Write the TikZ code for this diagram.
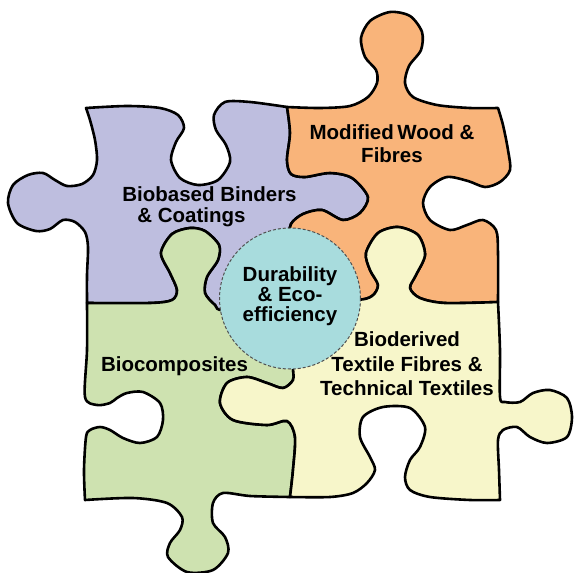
\documentclass[tikz,border=0pt]{standalone}
\usepackage{fontspec}
\setmainfont{Liberation Sans}
\definecolor{purp}{HTML}{BEBEDF}
\definecolor{oran}{HTML}{F9B47A}
\definecolor{gree}{HTML}{CEE2B0}
\definecolor{yell}{HTML}{F7F6CA}
\definecolor{circ}{HTML}{A8DCDD}
\definecolor{dashc}{HTML}{505050}
\begin{document}
\begin{tikzpicture}[x=1pt,y=-1pt,
  piece/.style={draw=black,line width=2.6pt,line join=round,line cap=round},
  lbl/.style={inner sep=0pt,align=center,text=black},
  fa/.style={font=\fontsize{20.5}{21}\selectfont\bfseries},
  fb/.style={font=\fontsize{20.5}{23}\selectfont\bfseries},
  fc/.style={font=\fontsize{20.5}{20}\selectfont\bfseries},
  fd/.style={font=\fontsize{20.5}{24.5}\selectfont\bfseries}]
\fill[white] (0,0) rectangle (574,573);
\useasboundingbox (0,0) rectangle (574,573);
% purple piece
\filldraw[piece,fill=purp]
  plot[smooth] coordinates {(87,303) (87,275) (88,247) (85,232) (75,222) (63,220) (50,229) (36,231) (17,223) (8,203) (13,185) (28,175) (43,173) (55,180) (67,186) (82,184) (93,175) (97,160) (95,140) (90,120) (86,108)}
  -- plot[smooth] coordinates {(86,108) (127,106) (160,108) (178,115) (184,128) (176,142) (171,160) (180,178) (198,185) (218,180) (230,162) (226,145) (216,130) (214,115) (225,102) (250,102) (287,107)}
  -- plot[smooth] coordinates {(287,107) (290,133) (287,160) (291,174) (305,177) (330,173) (352,178) (368,197) (360,213) (343,220) (322,210) (303,214) (291,224) (289,240) (290,300)}
  -- plot[smooth] coordinates {(290,300) (225,310) (215,305) (205,293) (207,277) (218,260) (219,245) (205,231) (190,228) (172,234) (161,253) (170,273) (177,290) (172,300) (150,303) (87,303)}
  -- cycle;
% orange piece
\filldraw[piece,fill=oran]
  plot[smooth] coordinates {(287,107) (320,108) (350,106) (368,97) (377,83) (376,70) (365,57) (361,38) (370,21) (390,12) (410,16) (422,32) (421,50) (409,66) (405,83) (413,97) (437,105) (470,108) (498,108)}
  -- plot[smooth] coordinates {(498,108) (503,125) (508,150) (510,170) (500,182) (485,187) (468,181) (447,177) (430,187) (423,203) (430,220) (450,230) (467,225) (483,220) (496,230) (498,253) (498,302)}
  -- plot[smooth] coordinates {(498,302) (445,303) (420,298) (410,288) (416,275) (425,255) (418,235) (398,227) (378,233) (366,253) (370,270) (378,285) (372,296) (355,300) (290,300)}
  -- plot[smooth] coordinates {(290,300) (289,240) (291,224) (303,214) (322,210) (343,220) (360,213) (368,197) (352,178) (330,173) (305,177) (291,174) (287,160) (290,133) (287,107)}
  -- cycle;
% green piece
\filldraw[piece,fill=gree]
  plot[smooth] coordinates {(87,303) (150,303) (172,300) (177,290) (170,273) (161,253) (172,234) (190,228) (205,231) (219,245) (218,260) (207,277) (205,293) (215,305) (225,310) (290,300)}
  -- plot[smooth] coordinates {(290,300) (293,367) (293,380) (283,388) (267,383) (247,377) (227,383) (220,403) (233,420) (267,425) (287,421) (295,437) (293,470) (290,497)}
  -- plot[smooth] coordinates {(290,497) (250,496) (223,493) (213,503) (213,523) (225,537) (228,553) (213,570) (187,572) (168,557) (170,543) (180,530) (182,517) (167,503) (133,498) (85,500)}
  -- plot[smooth] coordinates {(85,500) (84,470) (86,437) (90,430) (100,427) (110,430) (123,438) (140,443) (157,437) (163,420) (160,403) (143,392) (127,393) (117,398) (110,403) (97,405) (85,397) (87,350) (87,303)}
  -- cycle;
% yellow piece
\filldraw[piece,fill=yell]
  plot[smooth] coordinates {(290,300) (355,300) (372,296) (378,285) (370,270) (366,253) (378,233) (398,227) (418,235) (425,255) (416,275) (410,288) (420,298) (445,303) (498,302)}
  -- plot[smooth] coordinates {(498,302) (500,350) (500,397) (505,402) (520,402) (533,393) (550,390) (567,398) (572,417) (567,437) (547,443) (530,437) (517,427) (503,430) (498,440) (499,470) (500,500)}
  -- plot[smooth] coordinates {(500,500) (470,500) (430,497) (410,490) (405,477) (410,460) (420,447) (425,427) (410,408) (383,407) (363,417) (360,437) (370,457) (375,470) (367,483) (353,493) (330,497) (290,497)}
  -- plot[smooth] coordinates {(290,497) (293,470) (295,437) (287,421) (267,425) (233,420) (220,403) (227,383) (247,377) (267,383) (283,388) (293,380) (293,367) (290,300)}
  -- cycle;
% centre
\node[circle,minimum size=141pt,inner sep=0pt,fill=circ,draw=dashc,line width=1pt,dash pattern=on 3pt off 2pt] (core) at (290,298.5) {};
\node[lbl,fc] (dur) at (290,296) {Durability\\\& Eco-\\efficiency};
\node[lbl,fa,align=left] (bbc) at (209.5,206.5) {Biobased Binders\\\hspace*{15pt}\& Coatings};
\node[lbl,fb] (mwf) at (392,144) {Modified\,Wood \&\\Fibres};
\node[lbl,fa] (bcp) at (174.5,366) {Biocomposites};
\node[lbl,fd] (btf) at (407,364) {Bioderived\\Textile Fibres \&\\Technical Textiles};
\end{tikzpicture}
\end{document}
